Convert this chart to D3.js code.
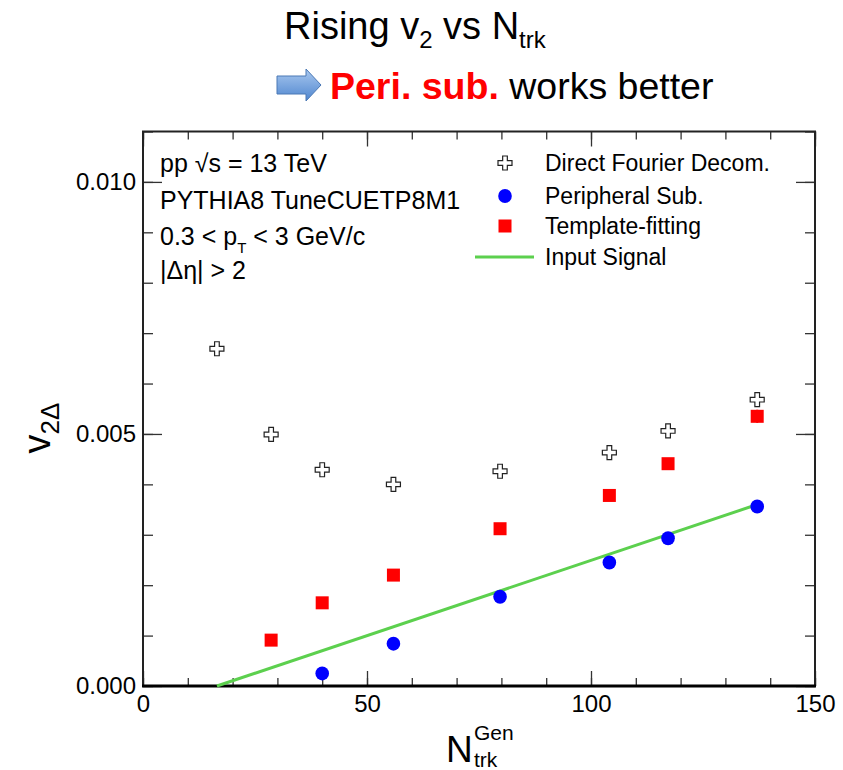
<!DOCTYPE html>
<html>
<head>
<meta charset="utf-8">
<script src="https://cdn.jsdelivr.net/npm/d3@7"></script>
<style>
  html, body { margin: 0; padding: 0; background: #fff; }
  svg text { font-family: "Liberation Sans", Arial, Helvetica, sans-serif; }
</style>
</head>
<body>
<svg id="chart" width="843" height="770"></svg>
<script>
// Multiplicity bins (generated charged-track count)
const nTrk = [16.5, 28.6, 40, 55.9, 79.7, 104.1, 117.2, 137.1];

// v2 from direct Fourier decomposition (all bins)
const directFourier = [0.00669, 0.00499, 0.00429, 0.00400, 0.00426, 0.00463, 0.00506, 0.00568];

// v2 from peripheral subtraction (bins 3..8)
const periNtrk = [40, 55.9, 79.7, 104.1, 117.2, 137.1];
const periSub = [0.00025, 0.00084, 0.00177, 0.00245, 0.00293, 0.00356];

// v2 from template fitting (bins 2..8) and its statistical error
const tmplNtrk = [28.6, 40, 55.9, 79.7, 104.1, 117.2, 137.1];
const tmplFit = [0.00091, 0.00165, 0.00220, 0.00312, 0.00378, 0.00441, 0.00535];
const tmplErr = [0, 0, 0, 0, 0, 0, 0.00013];

// Input signal implemented in the generator
const signalNtrk = [16.5, 137.1];
const signalV2 = [0, 0.00360];

// Axis ticks
const xMajor = [0, 50, 100, 150];
const xMinor = d3.range(0, 151, 10);
const yMajor = [0, 0.005, 0.010];
const yMinor = d3.range(0, 0.01101, 0.001);

const legendLabels = ["Direct Fourier Decom.", "Peripheral Sub.", "Template-fitting", "Input Signal"];

const svg = d3.select("#chart");

const x = d3.scaleLinear().domain([0, 150]).range([143, 815]);
const y = d3.scaleLinear().domain([0, 0.011]).range([686, 131.5]);

const RED = "#ff0000", BLUE = "#0000ff", GREEN = "#5cd04e";

// ---------- Headline ----------
const t1 = svg.append("text").attr("x", 284).attr("y", 39)
  .attr("font-size", 38).attr("fill", "#000");
t1.append("tspan").text("Rising v");
t1.append("tspan").attr("font-size", 24).attr("dy", 9).text("2");
t1.append("tspan").attr("dy", -9).text(" vs N");
t1.append("tspan").attr("font-size", 24).attr("dy", 9).text("trk");

// block arrow with a blue gradient
const defs = svg.append("defs");
const grad = defs.append("linearGradient").attr("id", "arrowGrad")
  .attr("x1", 0).attr("y1", 0).attr("x2", 0).attr("y2", 1);
grad.append("stop").attr("offset", "0%").attr("stop-color", "#a9c8ef");
grad.append("stop").attr("offset", "100%").attr("stop-color", "#4f86cf");
svg.append("path")
  .attr("d", "M277,76 L306,76 L306,69 L321,85 L306,101 L306,94 L277,94 Z")
  .attr("fill", "url(#arrowGrad)").attr("stroke", "#4a78b5").attr("stroke-width", 1);

const t2 = svg.append("text").attr("x", 330).attr("y", 99).attr("font-size", 37.5);
t2.append("tspan").attr("fill", RED).attr("font-weight", "bold").text("Peri. sub.");
t2.append("tspan").attr("fill", "#000").text(" works better");

// ---------- Axes ----------
const g = svg.append("g");

function addAxis(axisGen, transform, values, size, labels, padding) {
  const a = axisGen.tickValues(values).tickSize(-size).tickSizeOuter(0)
    .tickPadding(padding || 3);
  if (!labels) a.tickFormat("");
  else a.tickFormat(labels);
  const ag = g.append("g").attr("transform", transform).call(a);
  ag.select(".domain").remove();
  ag.selectAll(".tick line").attr("stroke", "#333").attr("stroke-width", 1.3);
  ag.selectAll("text").attr("font-size", 24).attr("fill", "#000")
    .style("font-family", "'Liberation Sans', Arial, sans-serif");
  return ag;
}

// bottom
addAxis(d3.axisBottom(x), "translate(0,686)", xMinor, 8);
addAxis(d3.axisBottom(x), "translate(0,686)", xMajor, 15, d3.format("d"), 9);
// top
addAxis(d3.axisTop(x), "translate(0,131.5)", xMinor, 8);
addAxis(d3.axisTop(x), "translate(0,131.5)", xMajor, 15);
// left
addAxis(d3.axisLeft(y), "translate(143,0)", yMinor, 10);
addAxis(d3.axisLeft(y), "translate(143,0)", yMajor, 19, d3.format(".3f"), 7);
// right
addAxis(d3.axisRight(y), "translate(815,0)", yMinor, 10);
addAxis(d3.axisRight(y), "translate(815,0)", yMajor, 19);

// frame
g.append("rect").attr("x", 143).attr("y", 131.5)
  .attr("width", 815 - 143).attr("height", 686 - 131.5)
  .attr("fill", "none").attr("stroke", "#222").attr("stroke-width", 2);
g.append("line").attr("x1", 142).attr("x2", 816).attr("y1", 686).attr("y2", 686)
  .attr("stroke", "#000").attr("stroke-width", 3);

// axis titles
const yt = svg.append("text")
  .attr("transform", "translate(50,428) rotate(-90)")
  .attr("text-anchor", "middle").attr("font-size", 38).attr("fill", "#000");
yt.append("tspan").text("v");
yt.append("tspan").attr("font-size", 26).attr("dy", 9).text("2Δ");

svg.append("text").attr("x", 446).attr("y", 762).attr("font-size", 37).text("N");
svg.append("text").attr("x", 474).attr("y", 740).attr("font-size", 21).text("Gen");
svg.append("text").attr("x", 474).attr("y", 767).attr("font-size", 21).text("trk");

// ---------- Markers ----------
function crossPath(cx, cy, s) {
  const o = s / 2, w = s / 6;
  return `M${cx - w},${cy - o} H${cx + w} V${cy - w} H${cx + o} V${cy + w} H${cx + w} V${cy + o} H${cx - w} V${cy + w} H${cx - o} V${cy - w} H${cx - w} Z`;
}

const plot = svg.append("g");

// input signal line
plot.append("path")
  .datum(d3.zip(signalNtrk, signalV2))
  .attr("d", d3.line().x(d => x(d[0])).y(d => y(d[1])))
  .attr("fill", "none").attr("stroke", GREEN).attr("stroke-width", 3);

// direct Fourier: open crosses
plot.selectAll("path.df").data(d3.zip(nTrk, directFourier)).join("path")
  .attr("class", "df")
  .attr("d", d => crossPath(x(d[0]), y(d[1]), 14))
  .attr("fill", "#fff").attr("stroke", "#222").attr("stroke-width", 1.2);

// template fitting: error bars then filled squares
const tData = d3.zip(tmplNtrk, tmplFit, tmplErr);
plot.selectAll("line.terr").data(tData.filter(d => d[2] > 0)).join("line")
  .attr("class", "terr")
  .attr("x1", d => x(d[0])).attr("x2", d => x(d[0]))
  .attr("y1", d => y(d[1] - d[2])).attr("y2", d => y(d[1] + d[2]))
  .attr("stroke", RED).attr("stroke-width", 2);
plot.selectAll("rect.tf").data(tData).join("rect")
  .attr("class", "tf")
  .attr("x", d => x(d[0]) - 6.5).attr("y", d => y(d[1]) - 6.5)
  .attr("width", 13).attr("height", 13).attr("fill", RED);

// peripheral subtraction: filled circles
plot.selectAll("ellipse.ps").data(d3.zip(periNtrk, periSub)).join("ellipse")
  .attr("class", "ps")
  .attr("cx", d => x(d[0])).attr("cy", d => y(d[1]))
  .attr("rx", 6.8).attr("ry", 7).attr("fill", BLUE);

// ---------- Text block ----------
const info = svg.append("g").attr("font-size", 25).attr("fill", "#000");
info.append("text").attr("x", 160).attr("y", 172).text("pp  √s = 13 TeV");
info.append("text").attr("x", 160).attr("y", 209).text("PYTHIA8 TuneCUETP8M1");
const pt = info.append("text").attr("x", 160).attr("y", 245);
pt.append("tspan").text("0.3 < p");
pt.append("tspan").attr("font-size", 15).attr("dy", 8).text("T");
pt.append("tspan").attr("dy", -8).text(" < 3 GeV/c");
info.append("text").attr("x", 160).attr("y", 279).text("|Δη| > 2");

// ---------- Legend ----------
const legY = [163, 196, 226, 257];
const lg = svg.append("g");
lg.selectAll("text").data(legendLabels).join("text")
  .attr("x", 545).attr("y", (d, i) => legY[i] + 8)
  .attr("font-size", 23).attr("fill", "#000").text(d => d);
lg.append("path").attr("d", crossPath(505, legY[0], 14))
  .attr("fill", "#fff").attr("stroke", "#222").attr("stroke-width", 1.2);
lg.append("ellipse").attr("cx", 505).attr("cy", legY[1]).attr("rx", 6.8).attr("ry", 7).attr("fill", BLUE);
lg.append("rect").attr("x", 505 - 6.5).attr("y", legY[2] - 6.5).attr("width", 13).attr("height", 13).attr("fill", RED);
lg.append("line").attr("x1", 475).attr("x2", 534).attr("y1", legY[3]).attr("y2", legY[3])
  .attr("stroke", GREEN).attr("stroke-width", 3);
</script>
</body>
</html>
